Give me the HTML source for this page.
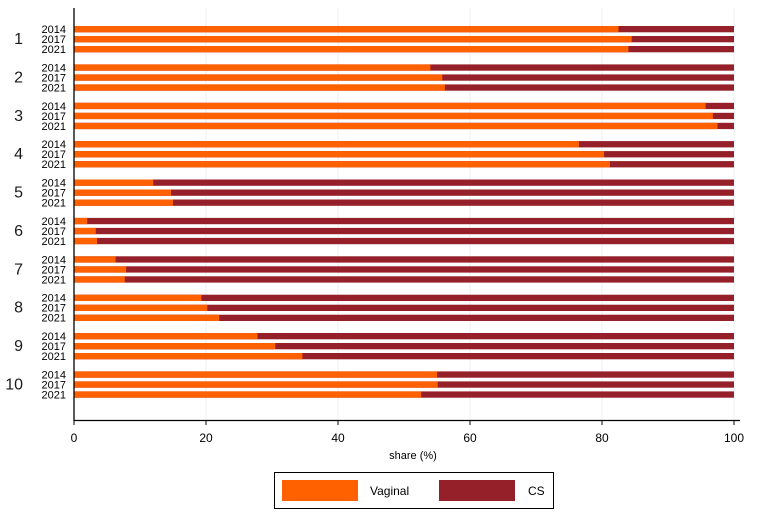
<!DOCTYPE html>
<html><head><style>body{margin:0;background:#fff}svg{display:block}</style></head><body>
<svg width="759" height="525" xmlns="http://www.w3.org/2000/svg" font-family="Liberation Sans, Arial, sans-serif">
<rect width="759" height="525" fill="#fff"/>
<g stroke="#e8f1f3" stroke-width="1">
<line x1="206" y1="8" x2="206" y2="420"/><line x1="338" y1="8" x2="338" y2="420"/>
<line x1="470" y1="8" x2="470" y2="420"/><line x1="602" y1="8" x2="602" y2="420"/><line x1="734" y1="8" x2="734" y2="420"/>
</g>
<g fill="#95202a">
<rect x="74" y="26" width="660" height="6.3"/><rect x="74" y="36" width="660" height="6.3"/><rect x="74" y="46" width="660" height="6.3"/>
<rect x="74" y="64.4" width="660" height="6.3"/><rect x="74" y="74.4" width="660" height="6.3"/><rect x="74" y="84.4" width="660" height="6.3"/>
<rect x="74" y="102.8" width="660" height="6.3"/><rect x="74" y="112.8" width="660" height="6.3"/><rect x="74" y="122.8" width="660" height="6.3"/>
<rect x="74" y="141.1" width="660" height="6.3"/><rect x="74" y="151.1" width="660" height="6.3"/><rect x="74" y="161.1" width="660" height="6.3"/>
<rect x="74" y="179.5" width="660" height="6.3"/><rect x="74" y="189.5" width="660" height="6.3"/><rect x="74" y="199.5" width="660" height="6.3"/>
<rect x="74" y="217.9" width="660" height="6.3"/><rect x="74" y="227.9" width="660" height="6.3"/><rect x="74" y="237.9" width="660" height="6.3"/>
<rect x="74" y="256.3" width="660" height="6.3"/><rect x="74" y="266.3" width="660" height="6.3"/><rect x="74" y="276.3" width="660" height="6.3"/>
<rect x="74" y="294.7" width="660" height="6.3"/><rect x="74" y="304.7" width="660" height="6.3"/><rect x="74" y="314.7" width="660" height="6.3"/>
<rect x="74" y="333" width="660" height="6.3"/><rect x="74" y="343" width="660" height="6.3"/><rect x="74" y="353" width="660" height="6.3"/>
<rect x="74" y="371.4" width="660" height="6.3"/><rect x="74" y="381.4" width="660" height="6.3"/><rect x="74" y="391.4" width="660" height="6.3"/>
</g>
<g fill="#ff6000">
<rect x="74" y="26" width="544.5" height="6.3"/><rect x="74" y="36" width="557.7" height="6.3"/><rect x="74" y="46" width="554.4" height="6.3"/>
<rect x="74" y="64.4" width="356.4" height="6.3"/><rect x="74" y="74.4" width="368.3" height="6.3"/><rect x="74" y="84.4" width="370.9" height="6.3"/>
<rect x="74" y="102.8" width="631.6" height="6.3"/><rect x="74" y="112.8" width="638.9" height="6.3"/><rect x="74" y="122.8" width="643.5" height="6.3"/>
<rect x="74" y="141.1" width="504.9" height="6.3"/><rect x="74" y="151.1" width="530" height="6.3"/><rect x="74" y="161.1" width="535.9" height="6.3"/>
<rect x="74" y="179.5" width="79.2" height="6.3"/><rect x="74" y="189.5" width="97" height="6.3"/><rect x="74" y="199.5" width="99" height="6.3"/>
<rect x="74" y="217.9" width="13.2" height="6.3"/><rect x="74" y="227.9" width="21.8" height="6.3"/><rect x="74" y="237.9" width="23.1" height="6.3"/>
<rect x="74" y="256.3" width="41.6" height="6.3"/><rect x="74" y="266.3" width="52.1" height="6.3"/><rect x="74" y="276.3" width="50.8" height="6.3"/>
<rect x="74" y="294.7" width="127.4" height="6.3"/><rect x="74" y="304.7" width="133.3" height="6.3"/><rect x="74" y="314.7" width="145.2" height="6.3"/>
<rect x="74" y="333" width="183.5" height="6.3"/><rect x="74" y="343" width="201.3" height="6.3"/><rect x="74" y="353" width="228.4" height="6.3"/>
<rect x="74" y="371.4" width="363" height="6.3"/><rect x="74" y="381.4" width="363.7" height="6.3"/><rect x="74" y="391.4" width="347.2" height="6.3"/>
</g>
<g font-size="16" text-anchor="end" fill="#1a1a1a">
<text x="23" y="44">1</text><text x="23" y="82.4">2</text><text x="23" y="120.8">3</text><text x="23" y="159.1">4</text><text x="23" y="197.5">5</text>
<text x="23" y="235.9">6</text><text x="23" y="274.3">7</text><text x="23" y="312.7">8</text><text x="23" y="351">9</text><text x="23" y="389.4">10</text>
</g>
<g font-size="11" text-anchor="end">
<text x="66" y="33">2014</text><text x="66" y="43">2017</text><text x="66" y="53">2021</text>
<text x="66" y="71.4">2014</text><text x="66" y="81.4">2017</text><text x="66" y="91.4">2021</text>
<text x="66" y="109.8">2014</text><text x="66" y="119.8">2017</text><text x="66" y="129.8">2021</text>
<text x="66" y="148.1">2014</text><text x="66" y="158.1">2017</text><text x="66" y="168.1">2021</text>
<text x="66" y="186.5">2014</text><text x="66" y="196.5">2017</text><text x="66" y="206.5">2021</text>
<text x="66" y="224.9">2014</text><text x="66" y="234.9">2017</text><text x="66" y="244.9">2021</text>
<text x="66" y="263.3">2014</text><text x="66" y="273.3">2017</text><text x="66" y="283.3">2021</text>
<text x="66" y="301.7">2014</text><text x="66" y="311.7">2017</text><text x="66" y="321.7">2021</text>
<text x="66" y="340">2014</text><text x="66" y="350">2017</text><text x="66" y="360">2021</text>
<text x="66" y="378.4">2014</text><text x="66" y="388.4">2017</text><text x="66" y="398.4">2021</text>
</g>
<line x1="74" y1="8" x2="74" y2="421" stroke="#000" stroke-width="1.3"/>
<line x1="74" y1="420.5" x2="740" y2="420.5" stroke="#000" stroke-width="1.3"/>
<g stroke="#000"><line x1="74" y1="420" x2="74" y2="425"/><line x1="206" y1="420" x2="206" y2="425"/><line x1="338" y1="420" x2="338" y2="425"/><line x1="470" y1="420" x2="470" y2="425"/><line x1="602" y1="420" x2="602" y2="425"/><line x1="734" y1="420" x2="734" y2="425"/></g>
<g font-size="12" text-anchor="middle"><text x="74" y="442">0</text><text x="206" y="442">20</text><text x="338" y="442">40</text><text x="470" y="442">60</text><text x="602" y="442">80</text><text x="734" y="442">100</text></g>
<text x="413" y="459" font-size="11" text-anchor="middle">share (%)</text>
<rect x="274.5" y="472.5" width="279" height="36" fill="#fff" stroke="#000"/>
<rect x="282" y="480" width="76" height="21" fill="#ff6000"/>
<rect x="439" y="480" width="76" height="21" fill="#95202a"/>
<text x="370" y="495" font-size="12">Vaginal</text><text x="528" y="495" font-size="12">CS</text>
</svg>
</body></html>
